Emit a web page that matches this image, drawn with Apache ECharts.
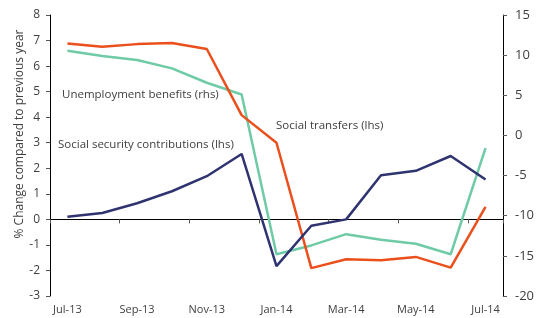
<!DOCTYPE html>
<html lang="en">
<head>
  <meta charset="UTF-8">
  <title>Social spending</title>
  <script src="https://cdn.jsdelivr.net/npm/echarts@6/dist/echarts.min.js"></script>
  <style>
    body { margin: 0; background: #fff; }
    #chart { width: 537px; height: 318px; }
  </style>
</head>
<body>
  <div id="chart"></div>
  <script>
    // months (Jul-13 .. Jul-14)
    const months = ['Jul-13', 'Aug-13', 'Sep-13', 'Oct-13', 'Nov-13', 'Dec-13', 'Jan-14',
                    'Feb-14', 'Mar-14', 'Apr-14', 'May-14', 'Jun-14', 'Jul-14'];

    // lhs
    const socialTransfers = [6.88, 6.76, 6.86, 6.9, 6.67, 4.08, 3.0, -1.91, -1.56, -1.6, -1.47, -1.89, 0.49];
    const socialSecurity = [0.1, 0.25, 0.63, 1.1, 1.69, 2.56, -1.83, -0.25, 0.0, 1.73, 1.9, 2.48, 1.56];
    // rhs
    const unemploymentBenefits = [10.55, 9.89, 9.39, 8.35, 6.56, 5.1, -14.8, -13.7, -12.3, -13.0, -13.5, -14.8, -1.58];

    const textColor = '#404040';
    const axisFont = '"Open Sans", sans-serif';
    const noteFont = '"Open Sans", sans-serif';

    const chart = echarts.init(document.getElementById('chart'));

    chart.setOption({
      animation: false,
      grid: { left: 50, right: 21, top: 15, bottom: 22 },
      textStyle: { fontFamily: axisFont },
      xAxis: [
        {
          // bottom labels only
          type: 'category',
          data: months,
          position: 'bottom',
          axisLine: { show: false, onZero: false },
          axisTick: { show: false },
          axisLabel: { interval: 1, color: textColor, fontSize: 11, margin: 8, fontFamily: axisFont }
        },
        {
          // zero line with ticks
          type: 'category',
          data: months,
          position: 'bottom',
          axisLine: { show: true, onZero: true, onZeroAxisIndex: 0, lineStyle: { color: '#000', width: 1 } },
          axisTick: { show: true, interval: 1, length: 4, inside: false, lineStyle: { color: '#555' } },
          axisLabel: { show: false }
        }
      ],
      yAxis: [
        {
          type: 'value',
          min: -3,
          max: 8,
          interval: 1,
          axisLine: { show: true, lineStyle: { color: '#000' } },
          axisTick: { show: true, length: 4, lineStyle: { color: '#555' } },
          axisLabel: { color: textColor, fontSize: 12, margin: 10, fontFamily: axisFont },
          splitLine: { show: false }
        },
        {
          type: 'value',
          min: -20,
          max: 15,
          interval: 5,
          position: 'right',
          axisLine: { show: true, lineStyle: { color: '#000' } },
          axisTick: { show: true, length: 4, lineStyle: { color: '#555' } },
          axisLabel: { color: textColor, fontSize: 13, margin: 12, fontFamily: axisFont },
          splitLine: { show: false }
        }
      ],
      series: [
        {
          name: 'Unemployment benefits (rhs)',
          type: 'line',
          yAxisIndex: 1,
          data: unemploymentBenefits,
          symbol: 'none',
          lineStyle: { color: '#6fcaa6', width: 2.5 }
        },
        {
          name: 'Social transfers (lhs)',
          type: 'line',
          data: socialTransfers,
          symbol: 'none',
          lineStyle: { color: '#ea4f1c', width: 2.5 }
        },
        {
          name: 'Social security contributions (lhs)',
          type: 'line',
          data: socialSecurity,
          symbol: 'none',
          lineStyle: { color: '#2f3470', width: 2.5 }
        }
      ],
      graphic: [
        {
          type: 'text', x: 20, y: 134, rotation: Math.PI / 2,
          style: {
            text: '% Change compared to previous year', fill: textColor,
            font: '12px ' + axisFont, align: 'center', verticalAlign: 'middle'
          }
        },
        { type: 'text', left: 62, top: 89, style: { text: 'Unemployment benefits (rhs)', fill: textColor, font: '11.5px ' + noteFont } },
        { type: 'text', left: 58, top: 139, style: { text: 'Social security contributions (lhs)', fill: textColor, font: '11.5px ' + noteFont } },
        { type: 'text', left: 276, top: 120, style: { text: 'Social transfers (lhs)', fill: textColor, font: '11.5px ' + noteFont } }
      ]
    });
  </script>
</body>
</html>
